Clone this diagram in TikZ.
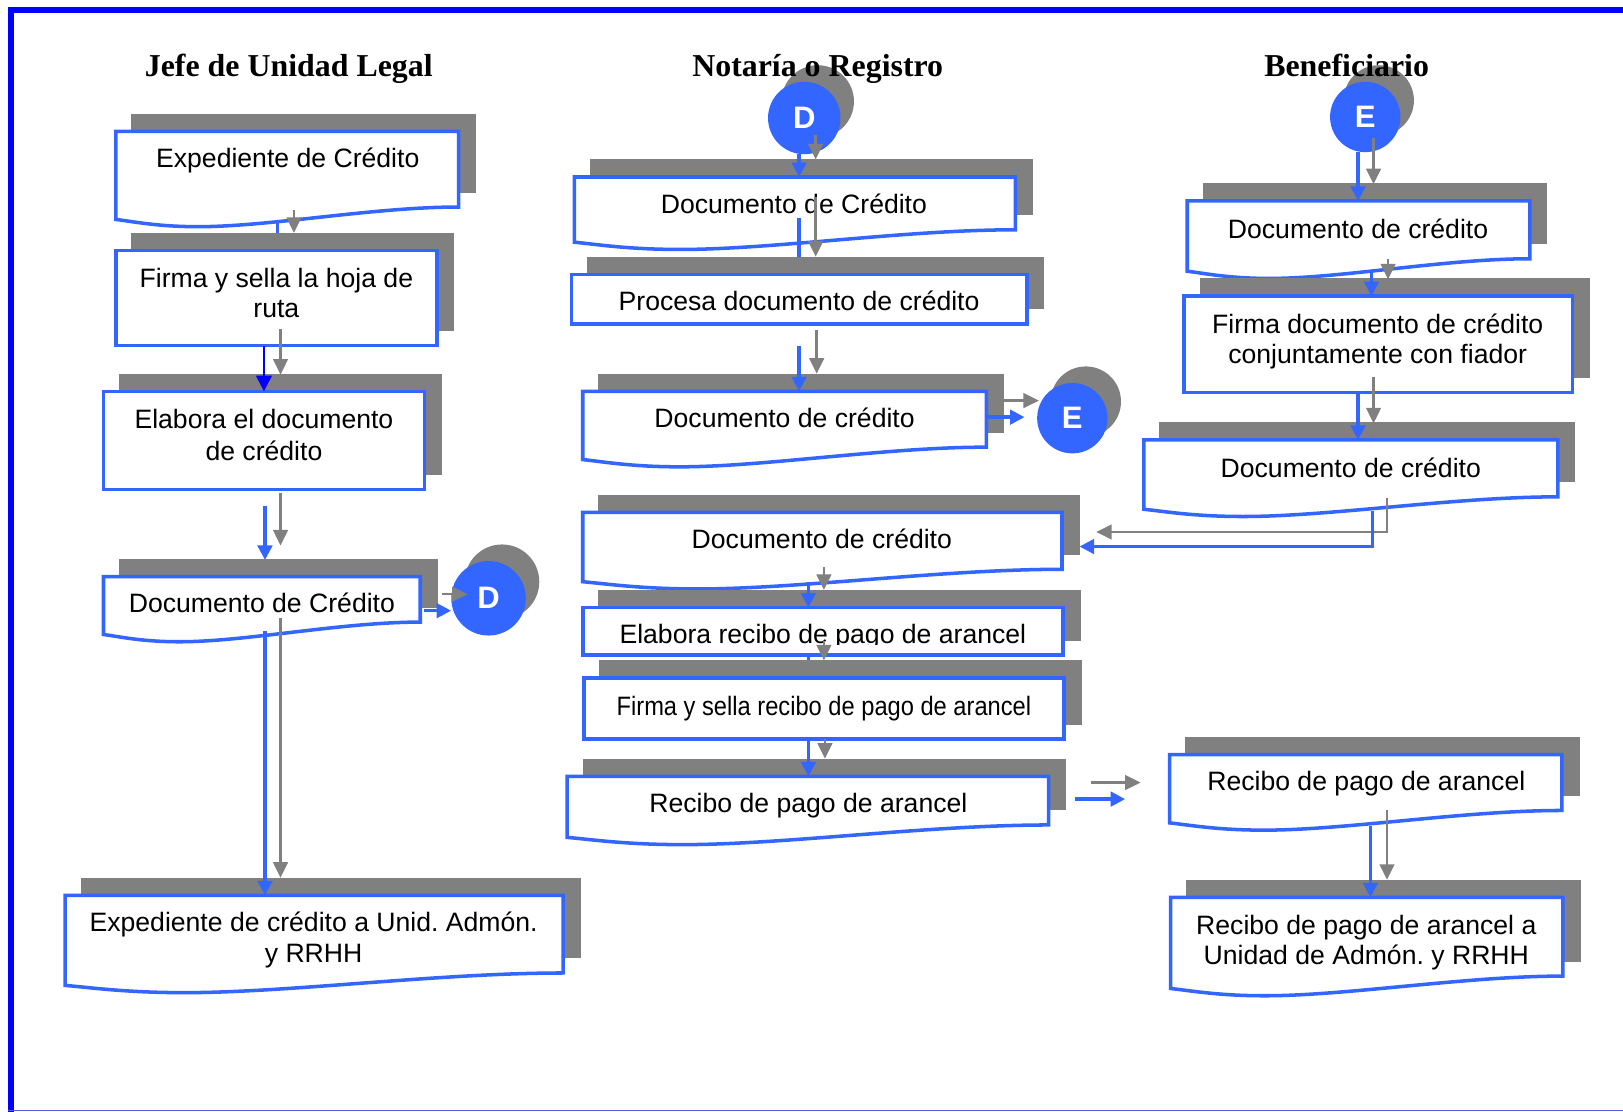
\documentclass[tikz,border=0pt]{standalone}
\usepackage{fontspec}
\setmainfont{Liberation Sans}
\newfontfamily\headfont{Liberation Serif}
\usetikzlibrary{arrows.meta}
\frenchspacing

\definecolor{boxblue}{RGB}{51,102,255}
\definecolor{shadegray}{RGB}{128,128,128}
\definecolor{rimblue}{RGB}{0,0,255}
\definecolor{rimlight}{RGB}{80,90,230}

\tikzset{
  boxline/.style={draw=boxblue, line width=3.4pt, fill=white},
  boxshade/.style={fill=shadegray},
  boxtext/.style={font=\frenchspacing\fontsize{25.7}{30}\selectfont, anchor=base, inner sep=0pt},
  headtext/.style={font=\headfont\bfseries\fontsize{30.8}{36}\selectfont, anchor=base, inner sep=0pt},
  linktext/.style={font=\bfseries\fontsize{30}{32}\selectfont, text=white},
  grayflow/.style={draw=shadegray, line width=2.6pt, -{Triangle[length=15pt,width=14pt]}},
  blueflow/.style={draw=boxblue, line width=3.2pt, -{Triangle[length=14pt,width=14pt]}},
  bluestub/.style={draw=boxblue, line width=3.2pt},
  deepflow/.style={draw=rimblue, line width=2.2pt, -{Triangle[length=15pt,width=15pt]}},
  shapeframe/.style={inner sep=0pt, outer sep=0pt, draw=none},
}

% document shape with wavy lower edge: name, left, top, right, bottom of the square part
\newcommand\docshape[5]{%
  \fill[boxshade] (#2+15,#3-17) rectangle (#4+17,#5-14);
  \path[boxline] (#2,#3) -- (#4,#3) -- (#4,#5)
    .. controls ({#4-0.25*(#4-#2)},#5) and ({#2+0.45*(#4-#2)},#5+19) .. ({#2+0.24*(#4-#2)},#5+19)
    .. controls ({#2+0.12*(#4-#2)},#5+19) and ({#2+0.05*(#4-#2)},#5+14) .. (#2,#5+12) -- cycle;
  \node[shapeframe, minimum width={#4-#2}, minimum height={#5-#3}] (#1) at ({(#2+#4)/2},{(#3+#5)/2}) {};
}
% process box: name, left, top, right, bottom
\newcommand\procshape[5]{%
  \fill[boxshade] (#2+15,#3-17) rectangle (#4+17,#5-14);
  \path[boxline] (#2,#3) rectangle (#4,#5);
  \node[shapeframe, minimum width={#4-#2}, minimum height={#5-#3}] (#1) at ({(#2+#4)/2},{(#3+#5)/2}) {};
}
% off-page connector: name, x, y, radius, letter
\newcommand\linkdisc[5]{%
  \fill[shadegray] (#2+13,#3-16) circle[radius=#4];
  \node[circle, minimum size={2*#4}, inner sep=0pt, fill=boxblue, linktext] (#1) at (#2,#3) {#5};
}

\begin{document}
\begin{tikzpicture}[x=1pt, y=-1pt]
\useasboundingbox (0,0) rectangle (1568,1074);
\fill[white] (0,0) rectangle (1568,1074);

% page frame
\draw[rimblue, line width=5.6pt] (10.8,1074) -- (10.8,10) -- (1568,10);
\draw[rimlight, line width=1.6pt] (8,1073) -- (1568,1073);

% ---- Jefe de Unidad Legal ----
\docshape{a1}{112}{127}{443}{200}
\node[boxtext] (a1t) at (278,162) {Expediente de Crédito};
\procshape{a2}{112}{242}{422}{334}
\node[boxtext] (a2t1) at (267,278) {Firma y sella la hoja de};
\node[boxtext] (a2t2) at (267,307) {ruta};
\procshape{a3}{100}{378}{410}{473}
\node[boxtext] (a3t1) at (255,414) {Elabora el documento};
\node[boxtext] (a3t2) at (255,445) {de crédito};
\docshape{a4}{100}{557}{406}{601}
\node[boxtext] (a4t) at (253,592) {Documento de Crédito};
\linkdisc{d1}{472}{578}{36}{D}
\docshape{a5}{63}{865}{544}{940}
\node[boxtext] (a5t1) at (303,900) {Expediente de crédito a Unid. Admón.};
\node[boxtext] (a5t2) at (303,930) {y RRHH};

% ---- Notaría o Registro ----
\linkdisc{d2}{777}{114}{35}{D}
\docshape{b1}{555}{171}{981}{222}
\node[boxtext] (b1t) at (767,206) {Documento de Crédito};
\procshape{b2}{552}{265}{992}{313}
\node[boxtext] (b2t) at (772,300) {Procesa documento de crédito};
\docshape{b3}{563}{378}{953}{432}
\node[boxtext] (b3t) at (758,413) {Documento de crédito};
\linkdisc{e1}{1036}{404}{34}{E}
\docshape{b4}{563}{495}{1026}{550}
\node[boxtext] (b4t) at (794,530) {Documento de crédito};
\procshape{b5}{563}{587}{1027}{633}
\begin{scope}
  \clip (563,587) rectangle (1027,623);
  \node[boxtext] (b5t) at (795,622) {Elabora recibo de pago de arancel};
\end{scope}
\procshape{b6}{564}{655}{1028}{714}
\node[boxtext] (b6t) at (796,691) {\scalebox{0.89}[1]{Firma y sella recibo de pago de arancel}};
\docshape{b7}{548}{750}{1013}{797}
\node[boxtext] (b7t) at (781,785) {Recibo de pago de arancel};

% ---- Beneficiario ----
\linkdisc{e2}{1319}{113}{34}{E}
\docshape{c1}{1147}{194}{1478}{250}
\node[boxtext] (c1t) at (1312,230) {Documento de crédito};
\procshape{c2}{1144}{286}{1519}{379}
\node[boxtext] (c2t1) at (1331,322) {Firma documento de crédito};
\node[boxtext] (c2t2) at (1331,351) {conjuntamente con fiador};
\docshape{c3}{1105}{425}{1505}{480}
\node[boxtext] (c3t) at (1305,461) {Documento de crédito};
\docshape{c4}{1130}{729}{1509}{783}
\node[boxtext] (c4t) at (1320,764) {Recibo de pago de arancel};
\docshape{c5}{1131}{867}{1510}{943}
\node[boxtext] (c5t1) at (1320,903) {Recibo de pago de arancel a};
\node[boxtext] (c5t2) at (1320,932) {Unidad de Admón. y RRHH};

% ---- flow lines (gray and blue pairs) ----
% a1 -> a2
\draw[grayflow] ([shift={(6.5,3)}]a1.south) -- ([shift={(17,-17)}]a2.north);
\draw[bluestub] ([shift={(-9.5,14)}]a1.south) -- ([shift={(1,-17)}]a2.north);
% a2 -> a3
\draw[grayflow] ([shift={(4,-16)}]a2.south) -- ([shift={(16,-16)}]a3.north);
\draw[deepflow] ([shift={(-12,0)}]a2.south) -- (a3.north);
% a3 -> a4
\draw[grayflow] ([shift={(16,3)}]a3.south) -- ([shift={(18,-30)}]a4.north);
\draw[blueflow] ([shift={(1,16)}]a3.south) -- ([shift={(3,-16)}]a4.north);
% a4 -> d1
\draw[grayflow] ([shift={(21,-5)}]a4.east) -- ([shift={(16,-4)}]d1.west);
\draw[blueflow] ([shift={(4,11)}]a4.east) -- ([shift={(0,12)}]d1.west);
% a4 -> a5
\draw[grayflow] ([shift={(18,-4)}]a4.south) -- ([shift={(-32.5,-17)}]a5.north);
\draw[blueflow] ([shift={(3,9)}]a4.south) -- ([shift={(-47.5,0)}]a5.north);
% d2 -> b1
\draw[grayflow] ([shift={(11,16)}]d2.center) -- ([shift={(20,-17)}]b1.north);
\draw[blueflow] ([shift={(-5,0)}]d2.south) -- ([shift={(4,0)}]b1.north);
% b1 -> b2
\draw[grayflow] ([shift={(20,-32)}]b1.south) -- ([shift={(16,-17)}]b2.north);
\draw[bluestub] ([shift={(4,-11)}]b1.south) -- ([shift={(0,-17)}]b2.north);
% b2 -> b3
\draw[grayflow] ([shift={(17,6)}]b2.south) -- ([shift={(31,-17)}]b3.north);
\draw[blueflow] ([shift={(0,21)}]b2.south) -- ([shift={(14,0)}]b3.north);
% b3 -> e1
\draw[grayflow] ([shift={(17,-18)}]b3.east) -- ([shift={(2,-17)}]e1.west);
\draw[blueflow] ([shift={(0,-2)}]b3.east) -- ([shift={(-12,-1)}]e1.west);
% e2 -> c1
\draw[grayflow] ([shift={(8,-14)}]e2.south) -- ([shift={(14.5,-16)}]c1.north);
\draw[blueflow] ([shift={(-7,0)}]e2.south) -- ([shift={(-0.5,0)}]c1.north);
% c1 -> c2
\draw[grayflow] ([shift={(28.5,0)}]c1.south) -- ([shift={(9.5,-16)}]c2.north);
\draw[blueflow] ([shift={(12.5,13)}]c1.south) -- ([shift={(-6.5,0)}]c2.north);
% c2 -> c3
\draw[grayflow] ([shift={(-4.5,-15)}]c2.south) -- ([shift={(22,-16)}]c3.north);
\draw[blueflow] ([shift={(-19.5,0)}]c2.south) -- ([shift={(7,0)}]c3.north);
% c3 -> b4 (returned document)
\draw[grayflow] ([shift={(35,1)}]c3.south) |- ([shift={(33,-8.5)}]b4.east);
\draw[blueflow] ([shift={(21,14)}]c3.south) |- ([shift={(17,5.5)}]b4.east);
% b4 -> b5
\draw[grayflow] ([shift={(1.5,-2)}]b4.south) -- ([shift={(1,-17)}]b5.north);
\draw[blueflow] ([shift={(-13.5,12)}]b4.south) -- ([shift={(-14,0)}]b5.north);
% b5 -> b6
\draw[grayflow] ([shift={(1,-14)}]b5.south) -- ([shift={(0,-17)}]b6.north);
\draw[bluestub] ([shift={(-14,0)}]b5.south) -- ([shift={(-15,-17)}]b6.north);
% b6 -> b7
\draw[grayflow] ([shift={(1,0)}]b6.south) -- ([shift={(16.5,-17)}]b7.north);
\draw[blueflow] ([shift={(-15,0)}]b6.south) -- ([shift={(0.5,0)}]b7.north);
% b7 -> c4
\draw[grayflow] ([shift={(41,-17.5)}]b7.east) -- ([shift={(-28,0)}]c4.west);
\draw[blueflow] ([shift={(26,-1.5)}]b7.east) -- ([shift={(-43,16)}]c4.west);
% c4 -> c5
\draw[grayflow] ([shift={(20.5,0)}]c4.south) -- ([shift={(19.5,-17)}]c5.north);
\draw[blueflow] ([shift={(4.5,15)}]c4.south) -- ([shift={(3.5,0)}]c5.north);

% ---- column headings ----
\node[headtext] (h1) at (279,74) {Jefe de Unidad Legal};
\node[headtext] (h2) at (790,74) {Notaría o Registro};
\node[headtext] (h3) at (1301,74) {Beneficiario};
\end{tikzpicture}
\end{document}
